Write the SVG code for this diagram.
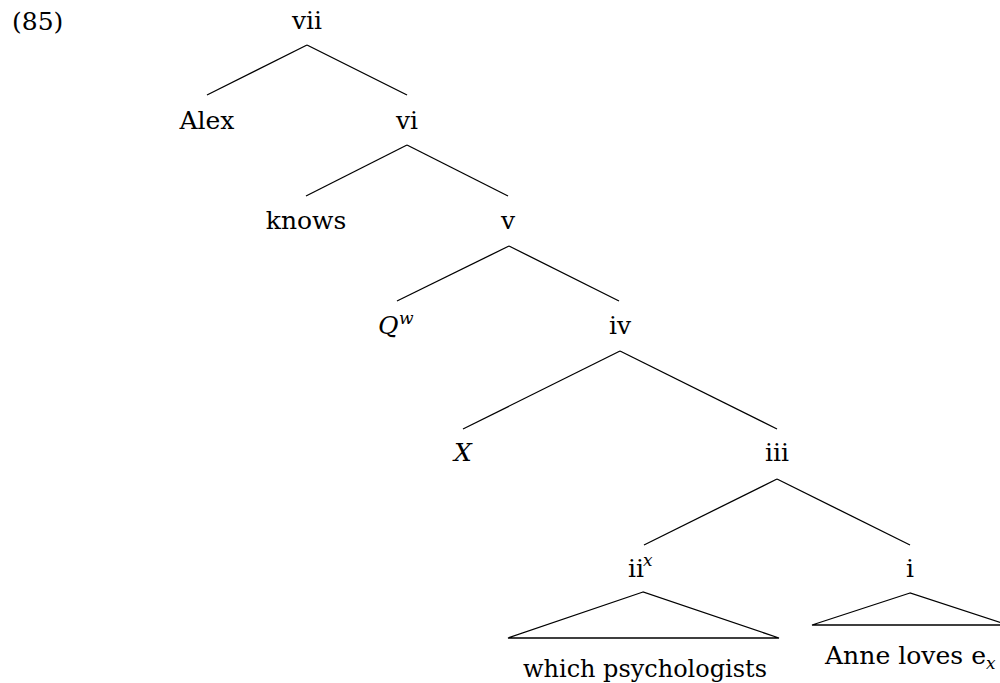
<svg xmlns="http://www.w3.org/2000/svg" width="1000" height="683" viewBox="0 0 1000 683">
<style>
text{font-family:'DejaVu Serif',serif;font-size:25px;fill:#000}
.m{text-anchor:middle}
.it{font-style:italic}
.sup{font-style:italic;font-size:17px}
line,polygon{stroke:#000;stroke-width:1.3;fill:none}
</style>
<rect width="1000" height="683" fill="#fff"/>
<text x="12" y="30">(85)</text>
<g id="connectors">
<line x1="307" y1="45" x2="207" y2="95"/>
<line x1="307" y1="45" x2="407" y2="95"/>
<line x1="407" y1="145" x2="306" y2="196"/>
<line x1="407" y1="145" x2="508" y2="196"/>
<line x1="509" y1="246" x2="397" y2="301"/>
<line x1="509" y1="246" x2="619" y2="301"/>
<line x1="620" y1="351" x2="463" y2="429"/>
<line x1="620" y1="351" x2="777" y2="429"/>
<line x1="777" y1="479" x2="644" y2="545"/>
<line x1="777" y1="479" x2="910" y2="545"/>
</g>
<g id="n-vii"><text class="m" x="307" y="29">vii</text></g>
<g id="n-alex"><text class="m" x="207" y="129">Alex</text></g>
<g id="n-vi"><text class="m" x="407" y="129">vi</text></g>
<g id="n-knows"><text class="m" x="306" y="229">knows</text></g>
<g id="n-v"><text class="m" x="508" y="229">v</text></g>
<g id="n-qw"><text class="it" x="378" y="334">Q</text><text class="sup" x="399" y="324">w</text></g>
<g id="n-iv"><text class="m" x="620" y="334">iv</text></g>
<g id="n-x"><text class="m it" x="463" y="461">X</text></g>
<g id="n-iii"><text class="m" x="777" y="461">iii</text></g>
<g id="n-ii"><text x="628" y="577">ii</text><text class="sup" x="643" y="566">x</text>
<polygon points="643,592 508,638 779,638"/>
<text x="523" y="677" textLength="244" lengthAdjust="spacingAndGlyphs">which psychologists</text></g>
<g id="n-i"><text class="m" x="910" y="577">i</text>
<polygon points="910,593 812,625 1008,625"/>
<text x="825" y="664" textLength="161" lengthAdjust="spacingAndGlyphs">Anne loves e</text><text class="sup" x="986" y="669">x</text></g>
</svg>
